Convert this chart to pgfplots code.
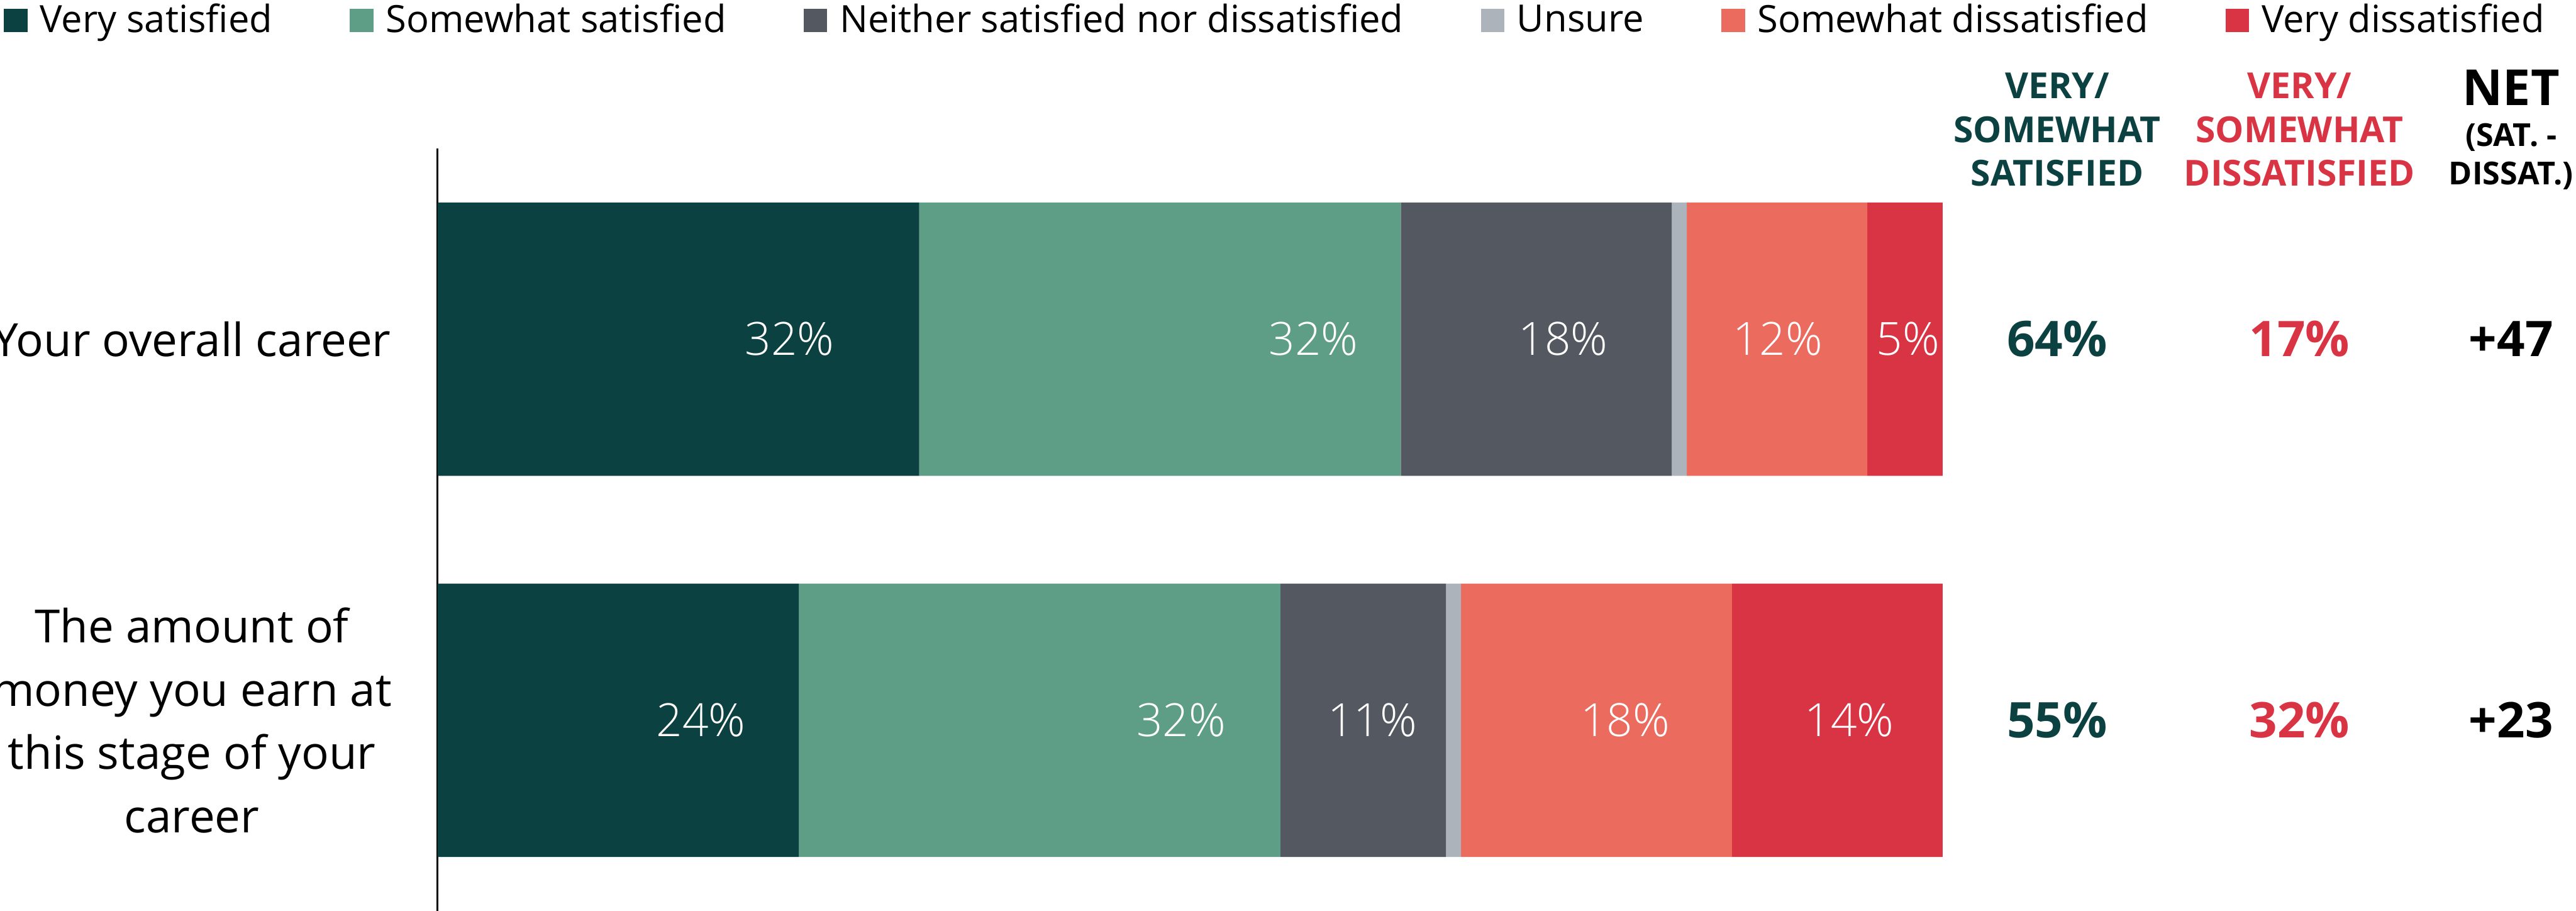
\documentclass[border=0pt]{standalone}
\usepackage{fontspec}
\setmainfont{Open Sans}
\newfontfamily\lightfont{Open Sans Light}
\usepackage{pgfplots}
\pgfplotsset{compat=1.18}
\definecolor{c1}{HTML}{0B4140}
\definecolor{c2}{HTML}{5F9E86}
\definecolor{c3}{HTML}{545861}
\definecolor{c4}{HTML}{ADB3BA}
\definecolor{c5}{HTML}{EC6B5F}
\definecolor{c6}{HTML}{D93444}
\pgfplotsset{
  sq/.style={legend image code/.code={\fill[#1] (0pt,-4.2pt) rectangle (8.4pt,4.2pt);}},
}
\begin{document}
\begin{tikzpicture}
\useasboundingbox (0,0) rectangle (912.6pt,322.6pt);
\clip (0,0) rectangle (912.6pt,322.6pt);
\begin{axis}[
  at={(155pt,0pt)}, anchor=south west,
  width=533.2pt, height=270pt, scale only axis,
  xbar stacked, bar width=96.8pt,
  xmin=0, xmax=100, ymin=-0.5, ymax=1.5,
  axis x line=none, axis y line=left,
  axis line style={-, black, line width=0.6pt},
  ytick={0,1}, major tick length=0pt,
  yticklabels={{The amount of\\money you earn at\\this stage of your\\career},{Your overall career}},
  yticklabel style={anchor=center, align=center, xshift=-87pt, inner sep=0pt,
    font=\fontsize{16.2}{22.4}\selectfont},
  /pgf/number format/assume math mode=true,
  clip=false,
  legend columns=6,
  legend style={at={(-0.2881,1.168)}, anchor=west, draw=none, fill=none,
    inner sep=0pt, outer sep=0pt, font=\fontsize{13.3}{16}\selectfont,
    nodes={inner sep=0pt},
    /tikz/every odd column/.append style={column sep=4.4pt},
    /tikz/every even column/.append style={column sep=27.4pt}},
]
\addplot[fill=c1, draw=none, sq=c1] coordinates {(24,0) (32,1)};
\addplot[fill=c2, draw=none, sq=c2] coordinates {(32,0) (32,1)};
\addplot[fill=c3, draw=none, sq=c3] coordinates {(11,0) (18,1)};
\addplot[fill=c4, draw=none, sq=c4] coordinates {(1,0) (1,1)};
\addplot[fill=c5, draw=none, sq=c5] coordinates {(18,0) (12,1)};
\addplot[fill=c6, draw=none, sq=c6] coordinates {(14,0) (5,1)};
\legend{Very satisfied, Somewhat satisfied, Neither satisfied nor dissatisfied, Unsure, Somewhat dissatisfied, Very dissatisfied}
\end{axis}
\begin{axis}[
  at={(155pt,0pt)}, anchor=south west,
  width=533.2pt, height=270pt, scale only axis,
  xmin=0, xmax=100, ymin=-0.5, ymax=1.5,
  hide axis, clip=false,
  /pgf/number format/assume math mode=true,
  /pgf/number format/fixed, /pgf/number format/precision=0,
  nodes near coords align=center,
]
\addplot[draw=none, mark=none, point meta=explicit,
  nodes near coords={\pgfmathprintnumber{\pgfplotspointmeta}\%},
  every node near coord/.append style={anchor=center, text=white,
    font=\lightfont\fontsize{16.2}{19}\selectfont}]
  table[x=x, y=y, meta=v] {
x     y v
23.4  1 32
58.2  1 32
74.8  1 18
89.05 1 12
97.7  1 5
17.5  0 24
49.4  0 32
62.1  0 11
78.9  0 18
93.8  0 14
};
\addplot[draw=none, mark=none, point meta=explicit,
  nodes near coords={\pgfmathprintnumber{\pgfplotspointmeta}\%},
  every node near coord/.append style={anchor=center, text=c1,
    font=\bfseries\fontsize{17.4}{20}\selectfont}]
  table[x=x, y=y, meta=v] {
x      y v
107.61 1 64
107.61 0 55
};
\addplot[draw=none, mark=none, point meta=explicit,
  nodes near coords={\pgfmathprintnumber{\pgfplotspointmeta}\%},
  every node near coord/.append style={anchor=center, text=c6,
    font=\bfseries\fontsize{17.4}{20}\selectfont}]
  table[x=x, y=y, meta=v] {
x      y v
123.71 1 17
123.71 0 32
};
\addplot[draw=none, mark=none, point meta=explicit,
  nodes near coords={\pgfmathprintnumber[showpos]{\pgfplotspointmeta}},
  every node near coord/.append style={anchor=center, text=black,
    font=\bfseries\fontsize{17.4}{20}\selectfont}]
  table[x=x, y=y, meta=v] {
x      y v
137.77 1 47
137.77 0 23
};
\node[align=center, text=c1, font=\bfseries\fontsize{12.7}{15.4}\selectfont, inner sep=0pt]
  at (axis cs:107.61,1.5496) {VERY/\\SOMEWHAT\\SATISFIED};
\node[align=center, text=c6, font=\bfseries\fontsize{12.7}{15.4}\selectfont, inner sep=0pt]
  at (axis cs:123.71,1.5496) {VERY/\\SOMEWHAT\\DISSATISFIED};
\node[align=center, text=black, font=\bfseries\fontsize{17.6}{20}\selectfont, inner sep=0pt]
  at (axis cs:137.77,1.6593) {NET};
\node[align=center, text=black, font=\bfseries\fontsize{11.2}{13.6}\selectfont, inner sep=0pt]
  at (axis cs:137.77,1.4785) {(SAT. -\\DISSAT.)};
\end{axis}
\end{tikzpicture}
\end{document}
